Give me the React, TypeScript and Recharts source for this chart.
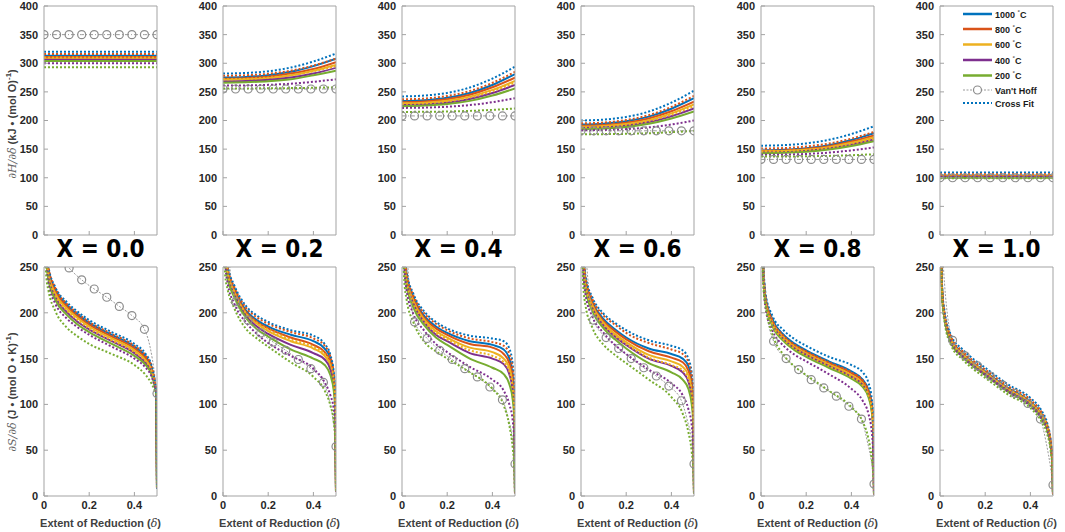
import React from "react";
import { LineChart, Line, XAxis, YAxis } from "recharts";

const COLORS = ["#0072BD", "#D95319", "#EDB120", "#7E2F8E", "#77AC30"];
const TEMPS = ["1000", "800", "600", "400", "200"];
const PANELS = ["X = 0.0", "X = 0.2", "X = 0.4", "X = 0.6", "X = 0.8", "X = 1.0"];

const TOP_X = [0, 0.1, 0.2, 0.3, 0.4, 0.5];
const BOT_X = [0.002, 0.01, 0.02, 0.05, 0.1, 0.15, 0.2, 0.3, 0.4, 0.45, 0.475, 0.49, 0.497, 0.5];
const X_TICKS = [0, 0.2, 0.4];
const TOP_Y_TICKS = [0, 50, 100, 150, 200, 250, 300, 350, 400];
const BOT_Y_TICKS = [0, 50, 100, 150, 200, 250];

const VH_TOP_X = [0, 0.0556, 0.1111, 0.1667, 0.2222, 0.2778, 0.3333, 0.3889, 0.4444, 0.5];
const VH_TOP = [350, 255, 208, 182, 132, 100];
const VH_BOT_X = [0.01, 0.02, 0.0556, 0.1111, 0.1667, 0.2222, 0.2778, 0.3333, 0.3889, 0.4444, 0.47, 0.49, 0.5];
const VH_BOT_MARK = [0, 0, 1, 1, 1, 1, 1, 1, 1, 1, 0, 0, 1];

// dH/dδ, rows = 1000, 800, 600, 400, 200 °C
const dH00Solid = [
  [313, 313, 313, 313, 313, 313],
  [311, 311, 311, 311, 311, 311],
  [308, 308, 308, 308, 308, 308],
  [306, 306, 306, 306, 306, 306],
  [304, 304, 304, 304, 304, 304],
];
const dH00Fit = [
  [320, 320, 320, 320, 320, 320],
  [316, 316, 316, 316, 316, 316],
  [310, 310, 310, 310, 310, 310],
  [300, 300, 300, 300, 300, 300],
  [293, 293, 293, 293, 293, 293],
];
const dH02Solid = [
  [275, 276, 279, 285, 295, 308],
  [273, 274, 276.5, 282, 290, 302],
  [271, 272, 274, 279, 287, 297],
  [268, 269, 271, 275, 282, 292],
  [266, 267, 268.5, 272, 279, 287],
];
const dH02Fit = [
  [282, 283, 286, 292.5, 303, 317],
  [278, 279, 281.5, 287, 296, 308],
  [272, 272.7, 275, 279, 286, 295],
  [261, 261.3, 262.3, 264.3, 267.6, 272],
  [256, 256, 256.3, 256.6, 257.2, 258],
];
const dH04Solid = [
  [234, 235.4, 239.6, 248, 262, 281],
  [232, 233.3, 237, 245, 258, 275],
  [230, 231.2, 234.7, 241.7, 253.4, 269],
  [227, 228, 231.2, 237.5, 248, 262],
  [225, 226, 228.7, 234.3, 243.6, 256],
];
const dH04Fit = [
  [242, 243.6, 248.2, 257.6, 273.2, 294],
  [237, 238.4, 242.8, 251.4, 265.8, 285],
  [229, 230.1, 233.4, 240.1, 251.2, 266],
  [222, 222.5, 224, 227, 232, 239],
  [215, 215.2, 215.7, 216.8, 218.6, 221],
];
const dH06Solid = [
  [193, 194.4, 198.5, 206.8, 220.6, 239],
  [191, 192.3, 196, 203.6, 216.2, 233],
  [189, 190.2, 193.7, 200.7, 212.4, 228],
  [187, 188, 191, 197.2, 207.4, 221],
  [185, 186, 188.7, 194.3, 203.6, 216],
];
const dH06Fit = [
  [200, 201.6, 206.2, 215.6, 231.2, 252],
  [195, 196.4, 200.8, 209.4, 223.8, 243],
  [188, 189.1, 192.4, 199.1, 210.2, 225],
  [183, 183.5, 185, 188, 193, 200],
  [176, 176.2, 176.7, 177.8, 179.6, 182],
];
const dH08Solid = [
  [148, 149, 151.6, 157, 166, 178],
  [147, 147.8, 150.2, 155, 163.2, 174],
  [146, 146.8, 149, 153.5, 161, 171],
  [144, 144.7, 146.8, 150.9, 157.8, 167],
  [143, 143.6, 145.5, 149.3, 155.6, 164],
];
const dH08Fit = [
  [156, 157, 160, 166.2, 176.4, 190],
  [151, 151.9, 154.5, 159.7, 168.4, 180],
  [146, 146.7, 148.6, 152.6, 159.2, 168],
  [140, 140.4, 141.6, 143.9, 147.8, 153],
  [137, 137.1, 137.5, 138.2, 139.4, 141],
];
const dH10Solid = [
  [104, 104, 104, 104, 104, 104],
  [103, 103, 103, 103, 103, 103],
  [102, 102, 102, 102, 102, 102],
  [101, 101, 101, 101, 101, 101],
  [100, 100, 100, 100, 100, 100],
];
const dH10Fit = [
  [109, 109, 109, 109, 109, 109],
  [106, 106, 106, 106, 106, 106],
  [104, 104, 104, 104, 104, 104],
  [102, 102, 102, 102, 102, 102],
  [99, 99, 99, 99, 99, 99],
];

// dS/dδ
const dS00Solid = [
  [325, 270, 247, 225, 209, 198, 189, 176, 163, 152, 141, 124, 111, 8],
  [322, 268, 245, 223, 207, 196, 187, 174, 161, 150, 139, 123, 111, 8],
  [320, 266, 243, 221, 205, 194, 185, 172, 159, 148, 138, 122, 111, 8],
  [316, 262, 239, 217, 201, 190, 182, 169, 156, 145, 135, 121, 110, 8],
  [312, 258, 236, 214, 198, 187, 179, 166, 153, 143, 133, 120, 110, 8],
];
const dS00Fit = [
  [330, 275, 250, 228, 212, 201, 192, 179, 166, 155, 143, 126, 112, 8],
  [327, 273, 249, 227, 210, 199, 190, 177, 164, 153, 142, 125, 111, 8],
  [318, 264, 241, 219, 203, 192, 183, 170, 157, 147, 137, 121, 111, 8],
  [308, 254, 232, 210, 194, 184, 176, 163, 150, 140, 131, 119, 110, 8],
  [290, 240, 224, 202, 184, 174, 166, 155, 143, 132, 123, 115, 110, 8],
];
const dS02Solid = [
  [325, 275, 248, 226, 203, 192, 185, 176, 169, 161, 150, 130, 105, 5],
  [322, 272, 246, 224, 201, 190, 183, 173, 165, 157, 146, 127, 102, 5],
  [318, 269, 244, 222, 199, 188, 180, 169, 161, 153, 142, 124, 99, 5],
  [315, 266, 242, 220, 197, 185, 177, 165, 156, 149, 138, 120, 96, 5],
  [310, 262, 239, 217, 195, 182, 174, 160, 150, 143, 132, 115, 92, 5],
];
const dS02Fit = [
  [330, 280, 252, 230, 208, 197, 190, 181, 175, 166, 154, 135, 110, 5],
  [328, 278, 250, 228, 206, 195, 188, 179, 172, 164, 152, 133, 108, 5],
  [320, 270, 245, 223, 200, 189, 182, 171, 163, 155, 144, 126, 100, 5],
  [305, 255, 233, 210, 190, 177, 167, 153, 139, 124, 110, 95, 72, 5],
  [290, 240, 226, 205, 183, 172, 163, 146, 130, 115, 99, 81, 59, 5],
];
const dS04Solid = [
  [325, 273, 242, 217, 196, 185, 178, 169, 165, 160, 150, 130, 105, 3],
  [322, 270, 240, 215, 194, 183, 176, 166, 162, 155, 145, 126, 100, 3],
  [318, 267, 238, 213, 192, 180, 173, 162, 157, 150, 140, 121, 96, 3],
  [314, 263, 235, 210, 189, 176, 169, 156, 150, 144, 133, 114, 90, 3],
  [310, 258, 231, 206, 186, 173, 165, 150, 140, 133, 122, 105, 82, 3],
];
const dS04Fit = [
  [330, 278, 245, 221, 201, 190, 183, 175, 172, 169, 161, 143, 115, 3],
  [327, 276, 243, 219, 199, 188, 181, 172, 168, 164, 155, 137, 110, 3],
  [316, 265, 236, 211, 190, 178, 171, 159, 153, 146, 136, 117, 92, 3],
  [300, 250, 225, 199, 180, 166, 157, 141, 127, 115, 100, 82, 60, 3],
  [285, 235, 215, 190, 168, 158, 150, 135, 117, 99, 77, 52, 30, 3],
];
const dS06Solid = [
  [325, 268, 236, 212, 193, 182, 173, 161, 155, 150, 142, 125, 100, 3],
  [322, 265, 234, 210, 191, 180, 171, 158, 151, 146, 137, 120, 96, 3],
  [318, 262, 232, 208, 189, 177, 168, 154, 147, 141, 132, 115, 92, 3],
  [314, 258, 229, 205, 186, 174, 165, 150, 142, 135, 125, 108, 86, 3],
  [310, 254, 226, 202, 183, 171, 161, 145, 135, 127, 117, 100, 78, 3],
];
const dS06Fit = [
  [330, 272, 240, 217, 199, 189, 181, 170, 164, 159, 150, 134, 108, 3],
  [327, 270, 238, 215, 197, 187, 178, 167, 160, 155, 146, 130, 104, 3],
  [316, 260, 230, 206, 187, 175, 166, 151, 143, 137, 128, 111, 88, 3],
  [300, 245, 220, 196, 178, 165, 155, 138, 123, 110, 95, 77, 55, 3],
  [285, 230, 208, 184, 165, 154, 145, 127, 108, 90, 70, 48, 28, 3],
];
const dS08Solid = [
  [312, 250, 217, 193, 176, 166, 159, 147, 136, 127, 116, 100, 78, 2],
  [310, 248, 216, 191, 174, 164, 157, 145, 134, 125, 114, 98, 76, 2],
  [308, 247, 214, 190, 173, 163, 156, 144, 132, 123, 112, 96, 74, 2],
  [306, 245, 213, 188, 171, 161, 154, 142, 130, 121, 110, 94, 72, 2],
  [304, 243, 211, 186, 169, 159, 152, 140, 128, 119, 108, 92, 70, 2],
];
const dS08Fit = [
  [320, 255, 221, 197, 181, 171, 164, 152, 143, 135, 124, 106, 84, 2],
  [311, 249, 216, 192, 175, 165, 158, 146, 135, 126, 115, 99, 77, 2],
  [306, 245, 212, 188, 171, 161, 154, 142, 130, 121, 110, 94, 72, 2],
  [298, 238, 205, 181, 164, 154, 147, 133, 117, 104, 90, 70, 45, 2],
  [290, 230, 208, 177, 154, 141, 132, 115, 97, 81, 63, 41, 23, 2],
];
const dS10Solid = [
  [300, 222, 198, 171, 156, 145, 136, 118, 103, 89, 76, 58, 38, 2],
  [299, 221, 197, 170, 155, 144, 135, 117, 102, 88, 75, 57, 37, 2],
  [298, 220, 196, 169, 154, 143, 134, 116, 101, 87, 74, 56, 37, 2],
  [297, 219, 195, 168, 153, 142, 133, 115, 100, 86, 73, 55, 36, 2],
  [296, 218, 194, 167, 152, 141, 132, 114, 99, 85, 72, 54, 35, 2],
];
const dS10Fit = [
  [305, 226, 202, 175, 160, 149, 140, 122, 107, 93, 79, 60, 39, 2],
  [302, 224, 200, 173, 158, 147, 138, 120, 105, 91, 77, 59, 38, 2],
  [299, 221, 197, 170, 155, 144, 135, 117, 102, 88, 75, 57, 37, 2],
  [296, 218, 194, 167, 152, 141, 132, 114, 98, 84, 71, 53, 34, 2],
  [292, 214, 190, 164, 149, 138, 129, 111, 96, 81, 67, 49, 31, 2],
];

const vhS00 = [400, 340, 268, 249, 236, 226, 217, 207, 197, 182, 162, 132, 112];
const vhS02 = [320, 280, 212, 192, 178, 168, 159, 149, 139, 124, 105, 78, 54];
const vhS04 = [310, 270, 190, 172, 159, 149, 139, 130, 119, 105, 85, 60, 35];
const vhS06 = [310, 270, 192, 173, 161, 150, 140, 131, 120, 104, 83, 60, 35];
const vhS08 = [300, 210, 169, 150, 138, 127, 118, 109, 98, 84, 60, 35, 13];
const vhS10 = [270, 232, 170, 153, 142, 131, 121, 112, 101, 84, 58, 30, 12];

const DH_SOLID = [dH00Solid, dH02Solid, dH04Solid, dH06Solid, dH08Solid, dH10Solid];
const DH_FIT = [dH00Fit, dH02Fit, dH04Fit, dH06Fit, dH08Fit, dH10Fit];
const DS_SOLID = [dS00Solid, dS02Solid, dS04Solid, dS06Solid, dS08Solid, dS10Solid];
const DS_FIT = [dS00Fit, dS02Fit, dS04Fit, dS06Fit, dS08Fit, dS10Fit];
const VH_S = [vhS00, vhS02, vhS04, vhS06, vhS08, vhS10];

const PLOT_LEFT = [44, 223, 402, 581, 761, 940];
const PLOT_W = 113;
const AXIS = "#a3a3a3";
const FONT = "'Liberation Sans', Arial, sans-serif";
const tickStyle = { fill: "#262626", fontSize: 11, fontWeight: 700, fontFamily: FONT };

const vhDot = (p: any) =>
  p.payload && p.payload.m ? (
    <circle key={p.index} cx={p.cx} cy={p.cy} r={4} fill="none" stroke="#8c8c8c" strokeWidth={1.2} />
  ) : (
    <g key={p.index} />
  );

function Panel({ row, col }: { row: number; col: number }) {
  const top = row === 0;
  const xs = top ? TOP_X : BOT_X;
  const solid = top ? DH_SOLID[col] : DS_SOLID[col];
  const fit = top ? DH_FIT[col] : DS_FIT[col];
  const vh = top
    ? VH_TOP_X.map((x) => ({ x, y: VH_TOP[col], m: true }))
    : VH_BOT_X.map((x, i) => ({ x, y: VH_S[col][i], m: VH_BOT_MARK[i] === 1 }));
  const yTicks = top ? TOP_Y_TICKS : BOT_Y_TICKS;
  const yMax = top ? 400 : 250;
  const common = { xAxisId: "b", yAxisId: "l", type: "monotone" as const, dot: false, activeDot: false, isAnimationActive: false };

  return (
    <div style={{ position: "absolute", left: PLOT_LEFT[col] - 40, top: top ? 0 : 261 }}>
      <LineChart width={40 + PLOT_W + 7} height={top ? 245 : 260} margin={{ top: 5, right: 6, left: 0, bottom: 0 }}>
        <XAxis
          xAxisId="b"
          type="number"
          dataKey="x"
          domain={[0, 0.5]}
          ticks={X_TICKS}
          interval={0}
          allowDataOverflow
          height={top ? 10 : 25}
          tickSize={-4}
          tickMargin={9}
          stroke={AXIS}
          tick={tickStyle}
          tickFormatter={(v: number) => (top ? "" : String(v))}
        />
        <XAxis
          xAxisId="t"
          orientation="top"
          type="number"
          dataKey="x"
          domain={[0, 0.5]}
          ticks={X_TICKS}
          interval={0}
          height={1}
          tickSize={-4}
          stroke={AXIS}
          tickFormatter={() => ""}
        />
        <YAxis
          yAxisId="l"
          type="number"
          domain={[0, yMax]}
          ticks={yTicks}
          interval={0}
          allowDataOverflow
          width={40}
          tickSize={-4}
          tickMargin={10}
          stroke={AXIS}
          tick={tickStyle}
        />
        <YAxis
          yAxisId="r"
          orientation="right"
          type="number"
          domain={[0, yMax]}
          ticks={yTicks}
          interval={0}
          width={1}
          tickSize={-4}
          stroke={AXIS}
          tickFormatter={() => ""}
        />
        {solid.map((vals, k) => (
          <Line
            key={"s" + k}
            {...common}
            data={xs.map((x, i) => ({ x, y: vals[i] }))}
            dataKey="y"
            stroke={COLORS[k]}
            strokeWidth={2}
          />
        ))}
        <Line
          {...common}
          type="monotone"
          data={vh}
          dataKey="y"
          stroke="#9a9a9a"
          strokeWidth={1}
          strokeDasharray={top ? "4 2 1 2" : "2 1.5"}
          dot={vhDot}
        />
        {fit.map((vals, k) => (
          <Line
            key={"f" + k}
            {...common}
            data={xs.map((x, i) => ({ x, y: vals[i] }))}
            dataKey="y"
            stroke={COLORS[k]}
            strokeWidth={2}
            strokeDasharray="2 2"
          />
        ))}
      </LineChart>
    </div>
  );
}

function Overlay() {
  const lbl = { fontFamily: FONT, fontWeight: 700, fill: "#404040" };
  const legendY = [14, 29, 44.5, 60, 75.5, 90, 103];
  return (
    <svg
      width={1065}
      height={532}
      style={{ position: "absolute", left: 0, top: 0, pointerEvents: "none" }}
    >
      {PANELS.map((t, i) => (
        <text
          key={t}
          x={PLOT_LEFT[i] + PLOT_W / 2}
          y={257}
          textAnchor="middle"
          fontFamily="'Liberation Sans Narrow', 'DejaVu Sans Condensed', sans-serif"
          fontWeight={700}
          fontSize={24}
          fill="#000"
        >
          {t}
        </text>
      ))}
      {PANELS.map((t, i) => (
        <text key={"xl" + t} x={PLOT_LEFT[i] + PLOT_W / 2} y={527} textAnchor="middle" fontSize={11} {...lbl}>
          Extent of Reduction (<tspan fontStyle="italic" fontWeight={400} fontFamily="'DejaVu Serif', serif">δ</tspan>)
        </text>
      ))}
      <text transform="translate(16,124) rotate(-90)" textAnchor="middle" fontSize={11} {...lbl}>
        <tspan fontStyle="italic" fontWeight={400} fontFamily="'DejaVu Serif', serif" fill="#666">∂H/∂δ</tspan>
        {" (kJ • (mol O)"}
        <tspan dy={-5} fontSize={8}>-1</tspan>
        <tspan dy={5}>)</tspan>
      </text>
      <text transform="translate(16,392) rotate(-90)" textAnchor="middle" fontSize={11} {...lbl}>
        <tspan fontStyle="italic" fontWeight={400} fontFamily="'DejaVu Serif', serif" fill="#666">∂S/∂δ</tspan>
        {" (J • (mol O • K)"}
        <tspan dy={-5} fontSize={8}>-1</tspan>
        <tspan dy={5}>)</tspan>
      </text>
      {TEMPS.map((t, k) => (
        <g key={t}>
          <line x1={963} x2={992} y1={legendY[k]} y2={legendY[k]} stroke={COLORS[k]} strokeWidth={2.5} />
          <text x={995} y={legendY[k] + 3.5} fontSize={9} fontFamily={FONT} fontWeight={700} fill="#1a1a1a">
            {t + " "}
            <tspan dy={-4} fontSize={6}>°</tspan>
            <tspan dy={4}>C</tspan>
          </text>
        </g>
      ))}
      <line x1={963} x2={992} y1={legendY[5]} y2={legendY[5]} stroke="#9a9a9a" strokeWidth={1} strokeDasharray="2 1.5" />
      <circle cx={977.5} cy={legendY[5]} r={4} fill="#fff" stroke="#8c8c8c" strokeWidth={1.2} />
      <text x={995} y={legendY[5] + 3.5} fontSize={9} fontFamily={FONT} fontWeight={700} fill="#1a1a1a">
        Van't Hoff
      </text>
      <line x1={963} x2={992} y1={legendY[6]} y2={legendY[6]} stroke={COLORS[0]} strokeWidth={2} strokeDasharray="2 2" />
      <text x={995} y={legendY[6] + 3.5} fontSize={9} fontFamily={FONT} fontWeight={700} fill="#1a1a1a">
        Cross Fit
      </text>
    </svg>
  );
}

export default function App() {
  return (
    <div style={{ position: "absolute", left: 0, top: 0, width: 1065, height: 532, background: "#fff" }}>
      {[0, 1].map((row) => PANELS.map((_, col) => <Panel key={row + "-" + col} row={row} col={col} />))}
      <Overlay />
    </div>
  );
}
